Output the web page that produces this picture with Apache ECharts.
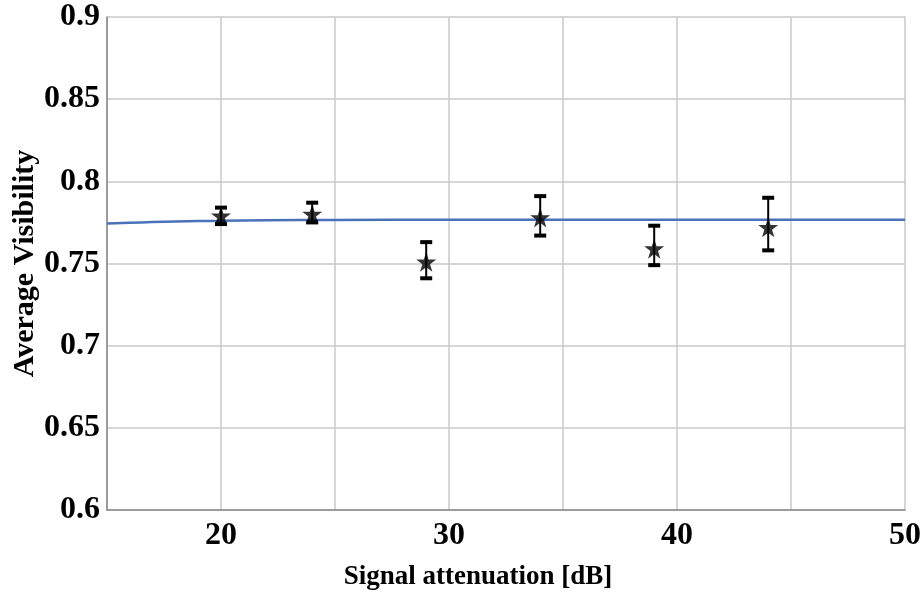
<!DOCTYPE html>
<html>
<head>
<meta charset="utf-8">
<script src="https://cdn.jsdelivr.net/npm/echarts@6/dist/echarts.min.js"></script>
<style>
html, body { margin: 0; padding: 0; background: #fff; }
#chart { width: 923px; height: 599px; }
</style>
</head>
<body>
<div id="chart"></div>
<script>
// measured points (attenuation in dB, visibility)
var attn = [20, 24, 29, 34, 39, 44];
var vis = [0.779, 0.780, 0.751, 0.778, 0.759, 0.772];
var visHigh = [0.784, 0.787, 0.763, 0.791, 0.773, 0.790];
var visLow = [0.774, 0.775, 0.741, 0.767, 0.749, 0.758];

// fitted curve
var fitX = [15, 16, 17, 18, 19, 20, 22, 25, 30, 35, 40, 45, 50];
var fitY = [0.7743, 0.7748, 0.7752, 0.7755, 0.7758, 0.7760, 0.7763, 0.7765, 0.7766, 0.7766, 0.7766, 0.7766, 0.7766];

var xTicks = [20, 30, 40, 50];

var pts = [];
var bars = [];
for (var i = 0; i < attn.length; i++) {
    pts.push([attn[i], vis[i]]);
    bars.push([attn[i], visLow[i], visHigh[i]]);
}
var fit = [];
for (var j = 0; j < fitX.length; j++) {
    fit.push([fitX[j], fitY[j]]);
}

var star = 'path://M50,0 L61.8,35.3 L100,35.3 L69.1,57.1 L80.9,92.4 L50,70.6 L19.1,92.4 L30.9,57.1 L0,35.3 L38.2,35.3 Z';
var font = '"Liberation Serif", "Times New Roman", serif';

var option = {
    animation: false,
    grid: { left: 107, right: 18, top: 17, bottom: 89, outerBoundsMode: 'none', containLabel: false },
    xAxis: {
        type: 'value', min: 15, max: 50, interval: 5,
        name: 'Signal attenuation [dB]', nameLocation: 'middle', nameGap: 54,
        nameTextStyle: { fontFamily: font, fontWeight: 'bold', fontSize: 27, color: '#000', padding: [0, 56, 0, 0] },
        axisLine: { lineStyle: { color: '#888', width: 1.5 } },
        axisTick: { show: false },
        axisLabel: {
            fontFamily: font, fontWeight: 'bold', fontSize: 32, color: '#000', margin: 10,
            formatter: function (v) { return xTicks.indexOf(v) >= 0 ? String(v) : ''; }
        },
        splitLine: { lineStyle: { color: '#c8c8c8', width: 1.5 } }
    },
    yAxis: {
        type: 'value', min: 0.6, max: 0.9, interval: 0.05,
        name: 'Average Visibility', nameLocation: 'middle', nameGap: 67, nameRotate: 90,
        nameMoveOverlap: false,
        nameTextStyle: { fontFamily: font, fontWeight: 'bold', fontSize: 30, color: '#000' },
        axisLine: { show: true, lineStyle: { color: '#888', width: 1.5 } },
        axisTick: { show: false },
        axisLabel: {
            fontFamily: font, fontWeight: 'bold', fontSize: 32, color: '#000', margin: 7,
            formatter: function (v) { return String(parseFloat(v.toFixed(2))); }
        },
        splitLine: { lineStyle: { color: '#c8c8c8', width: 1.5 } }
    },
    series: [
        {
            type: 'line', data: fit, showSymbol: false, smooth: true,
            lineStyle: { color: '#4a72b8', width: 2.5 }, z: 3
        },
        {
            type: 'custom', data: bars, z: 4,
            renderItem: function (params, api) {
                var top = api.coord([api.value(0), api.value(2)]);
                var bot = api.coord([api.value(0), api.value(1)]);
                var hw = 6;
                return {
                    type: 'group',
                    children: [
                        { type: 'line', shape: { x1: top[0], y1: top[1], x2: bot[0], y2: bot[1] },
                          style: { stroke: '#000', lineWidth: 2 } },
                        { type: 'line', shape: { x1: top[0] - hw, y1: top[1], x2: top[0] + hw, y2: top[1] },
                          style: { stroke: '#000', lineWidth: 4 } },
                        { type: 'line', shape: { x1: bot[0] - hw, y1: bot[1], x2: bot[0] + hw, y2: bot[1] },
                          style: { stroke: '#000', lineWidth: 4 } }
                    ]
                };
            }
        },
        {
            type: 'scatter', data: pts, symbol: star, symbolSize: 20, z: 5,
            itemStyle: { color: '#000' }
        }
    ]
};

var myChart = echarts.init(document.getElementById('chart'));
myChart.setOption(option);
</script>
</body>
</html>
